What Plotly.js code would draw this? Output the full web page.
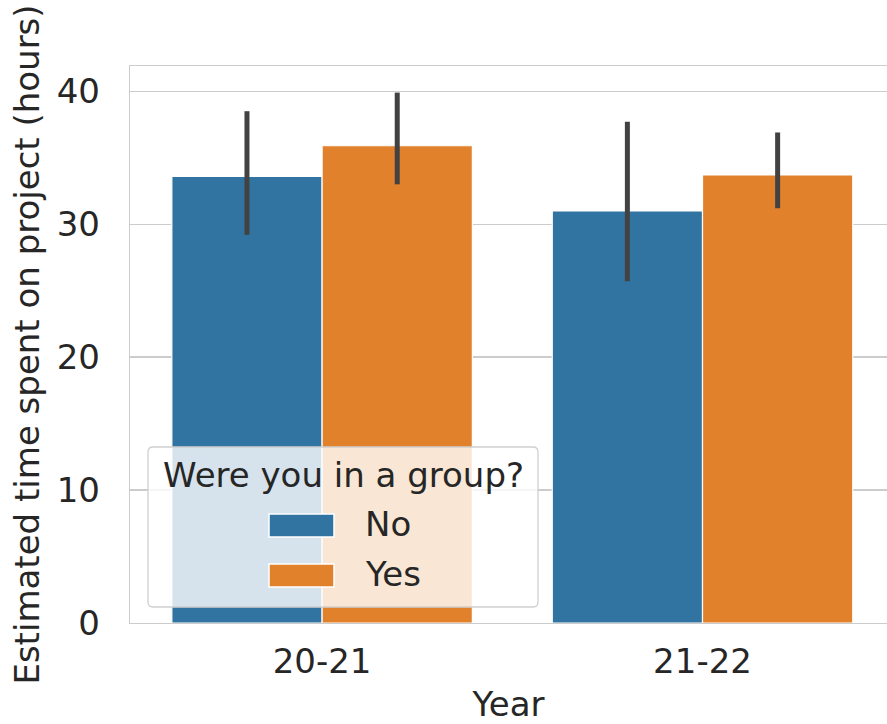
<!DOCTYPE html>
<html>
<head>
<meta charset="utf-8">
<script src="https://cdn.plot.ly/plotly-3.0.1.min.js"></script>
<style>html,body{margin:0;padding:0;background:#fff;overflow:hidden;}</style>
</head>
<body>
<div id="chart" style="width:887px;height:724px;"></div>
<script>
var years = ["20-21", "21-22"];
var groups = ["No", "Yes"];
var noMean = [33.6, 31.0];
var noCiLow = [29.2, 25.7];
var noCiHigh = [38.5, 37.7];
var yesMean = [35.9, 33.7];
var yesCiLow = [33.0, 31.2];
var yesCiHigh = [39.9, 36.9];
var yTicks = [0, 10, 20, 30, 40];
var legendTitle = "Were you in a group?";

function up(m, h) { return m.map(function (v, i) { return h[i] - v; }); }
function down(m, l) { return m.map(function (v, i) { return v - l[i]; }); }

var FONT = "DejaVu Sans, sans-serif";
var TXT = "#262626";
var FS = 34;
var colors = ["#3274a1", "#e1812c"];
var errStyle = { type: "data", symmetric: false, color: "#424242", thickness: 5, width: 0 };

var traces = [
  {
    type: "bar", name: groups[0], x: years, y: noMean,
    marker: { color: colors[0], line: { color: "#ffffff", width: 1.2 } },
    error_y: Object.assign({ array: up(noMean, noCiHigh), arrayminus: down(noMean, noCiLow) }, errStyle),
    hoverinfo: "skip", showlegend: false
  },
  {
    type: "bar", name: groups[1], x: years, y: yesMean,
    marker: { color: colors[1], line: { color: "#ffffff", width: 1.2 } },
    error_y: Object.assign({ array: up(yesMean, yesCiHigh), arrayminus: down(yesMean, yesCiLow) }, errStyle),
    hoverinfo: "skip", showlegend: false
  }
];

// plot-area geometry (pixels) used to place the legend box in paper coords
var M = { l: 130, r: 0, t: 66, b: 101 };
var W = 887, H = 724;
var PW = W - M.l - M.r, PH = H - M.t - M.b;
function px(x) { return (x - M.l) / PW; }
function py(y) { return (H - M.b - y) / PH; }

function roundRect(x0, y0, x1, y1, r) {
  var p = [];
  function pt(x, y) { return px(x) + "," + py(y); }
  p.push("M" + pt(x0 + r, y0));
  p.push("L" + pt(x1 - r, y0));
  p.push("Q" + pt(x1, y0) + " " + pt(x1, y0 + r));
  p.push("L" + pt(x1, y1 - r));
  p.push("Q" + pt(x1, y1) + " " + pt(x1 - r, y1));
  p.push("L" + pt(x0 + r, y1));
  p.push("Q" + pt(x0, y1) + " " + pt(x0, y1 - r));
  p.push("L" + pt(x0, y0 + r));
  p.push("Q" + pt(x0, y0) + " " + pt(x0 + r, y0));
  p.push("Z");
  return p.join(" ");
}

var shapes = [
  {
    type: "path", xref: "paper", yref: "paper", layer: "above",
    path: roundRect(148, 447, 538, 607, 5),
    fillcolor: "rgba(255,255,255,0.8)",
    line: { color: "#d0d0d0", width: 1.3 }
  }
];
var swatchY = [[514, 537], [564, 587]];
var textY = [524, 574];
var annotations = [
  {
    xref: "paper", yref: "paper", x: px(343), y: py(475), xanchor: "center", yanchor: "middle",
    text: legendTitle, showarrow: false, font: { family: FONT, size: FS, color: TXT }
  }
];
groups.forEach(function (g, i) {
  shapes.push({
    type: "rect", xref: "paper", yref: "paper", layer: "above",
    x0: px(269), x1: px(334), y0: py(swatchY[i][1]), y1: py(swatchY[i][0]),
    fillcolor: colors[i], line: { color: "#ffffff", width: 1.5 }
  });
  annotations.push({
    xref: "paper", yref: "paper", x: px(363), y: py(textY[i]), xanchor: "left", yanchor: "middle",
    text: g, showarrow: false, font: { family: FONT, size: FS, color: TXT }
  });
});

var layout = {
  width: W, height: H,
  margin: M,
  paper_bgcolor: "#ffffff", plot_bgcolor: "#ffffff",
  font: { family: FONT, size: FS, color: TXT },
  barmode: "group", bargap: 0.21, bargroupgap: 0,
  showlegend: false,
  xaxis: {
    type: "category", range: [-0.505, 1.485],
    showgrid: false, zeroline: false,
    showline: true, mirror: true, linecolor: "#cccccc", linewidth: 1.3,
    ticks: "outside", ticklen: 8, tickcolor: "rgba(0,0,0,0)",
    tickfont: { family: FONT, size: FS, color: TXT },
    title: { text: "Year", font: { family: FONT, size: FS, color: TXT }, standoff: 15 }
  },
  yaxis: {
    range: [0, 41.9], tickvals: yTicks,
    showgrid: true, gridcolor: "#cccccc", gridwidth: 1.3,
    zeroline: false,
    showline: true, mirror: false, linecolor: "#cccccc", linewidth: 1.3,
    ticks: "outside", ticklen: 22, tickcolor: "rgba(0,0,0,0)",
    tickfont: { family: FONT, size: FS, color: TXT },
    title: { text: "Estimated time spent on project (hours)", font: { family: FONT, size: FS, color: TXT }, standoff: 6 }
  },
  shapes: shapes,
  annotations: annotations
};

Plotly.newPlot("chart", traces, layout, { staticPlot: true, displayModeBar: false });
</script>
</body>
</html>
